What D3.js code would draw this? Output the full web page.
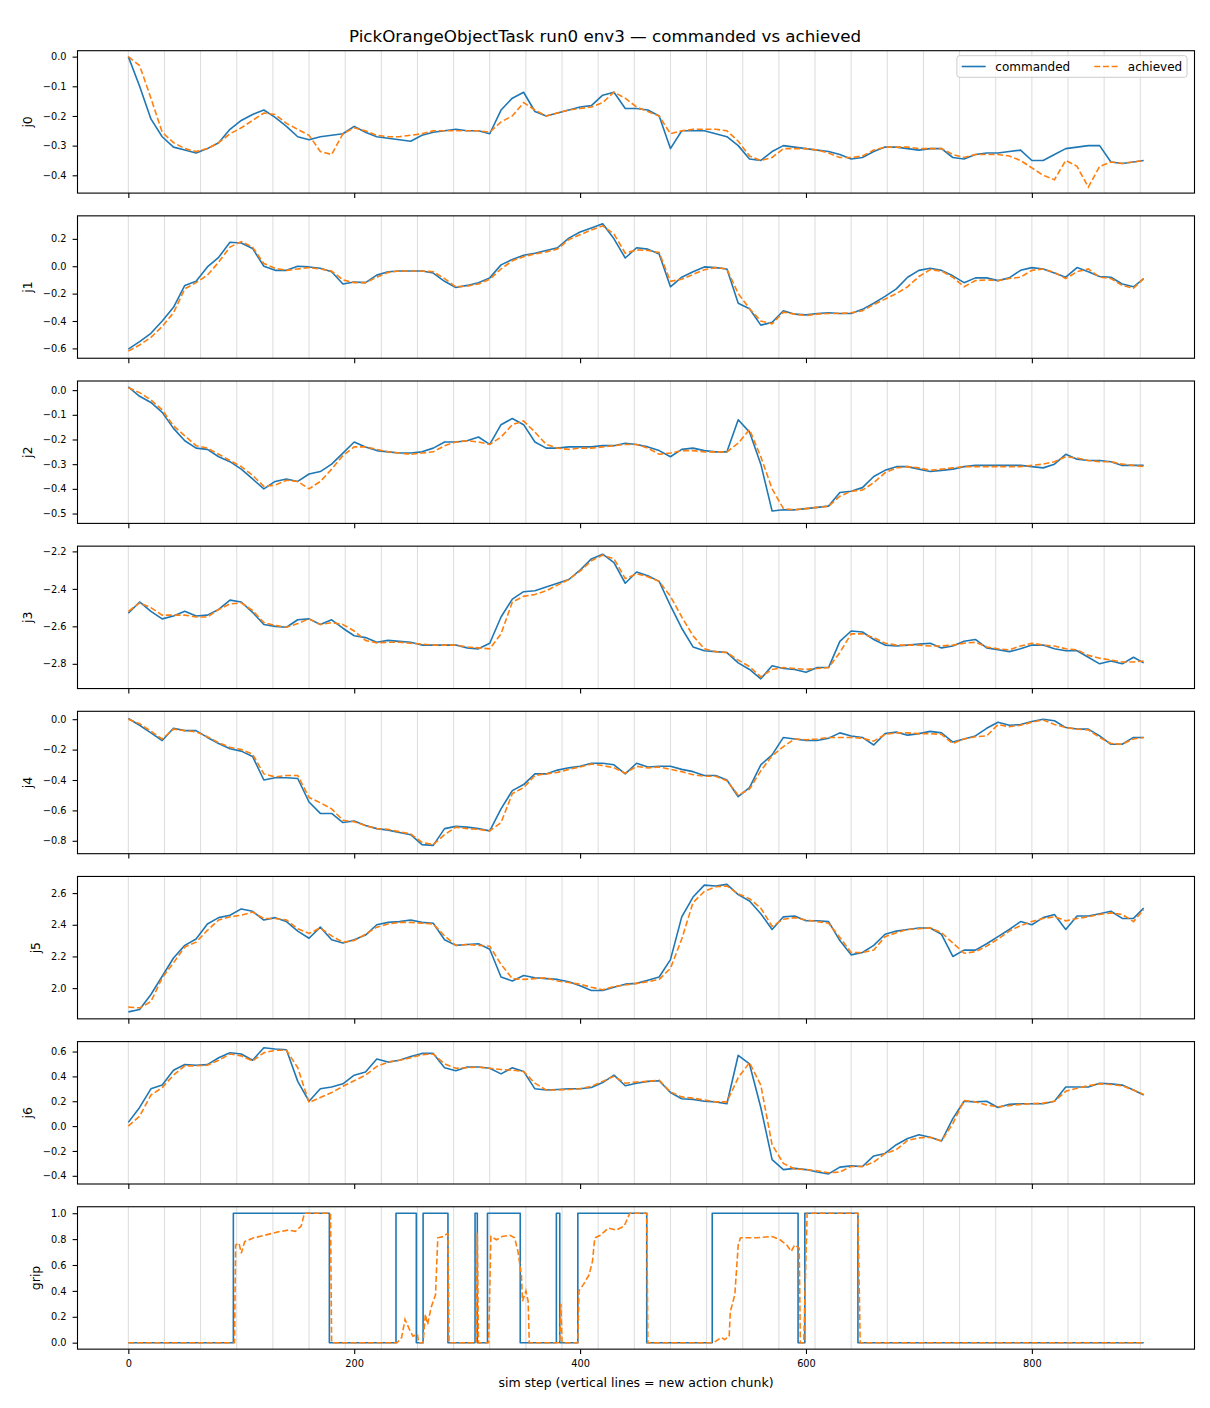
<!DOCTYPE html>
<html>
<head>
<meta charset="utf-8">
<script src="https://cdn.jsdelivr.net/npm/d3@7"></script>
<style>
  body { margin: 0; background: #fff; }
  svg { font-family: "DejaVu Sans", sans-serif; }
</style>
</head>
<body>
<svg id="fig" width="1210" height="1408"></svg>
<script>
// sample steps (every 10 sim steps, last one is the final step)
var steps = [0,10,20,30,40,50,60,70,80,90,100,110,120,130,140,150,160,170,180,190,
  200,210,220,230,240,250,260,270,280,290,300,310,320,330,340,350,360,370,380,390,
  400,410,420,430,440,450,460,470,480,490,500,510,520,530,540,550,560,570,580,590,
  600,610,620,630,640,650,660,670,680,690,700,710,720,730,740,750,760,770,780,790,
  800,810,820,830,840,850,860,870,880,890,899];

var j0Cmd = [0.0,-0.10,-0.21,-0.27,-0.305,-0.315,-0.325,-0.31,-0.29,-0.245,
  -0.215,-0.195,-0.18,-0.205,-0.235,-0.27,-0.28,-0.27,-0.265,-0.26,
  -0.235,-0.255,-0.27,-0.275,-0.28,-0.285,-0.265,-0.255,-0.25,-0.245,
  -0.25,-0.25,-0.26,-0.18,-0.14,-0.12,-0.185,-0.20,-0.19,-0.18,
  -0.17,-0.165,-0.13,-0.12,-0.175,-0.175,-0.18,-0.20,-0.31,-0.25,
  -0.25,-0.25,-0.26,-0.27,-0.30,-0.345,-0.35,-0.32,-0.30,-0.305,
  -0.31,-0.315,-0.32,-0.33,-0.345,-0.34,-0.32,-0.305,-0.305,-0.31,
  -0.315,-0.31,-0.31,-0.34,-0.345,-0.33,-0.325,-0.325,-0.32,-0.315,
  -0.35,-0.35,-0.33,-0.31,-0.305,-0.30,-0.30,-0.355,-0.36,-0.355,-0.35];
var j0Ach = [0.0,-0.03,-0.14,-0.255,-0.29,-0.31,-0.32,-0.31,-0.29,-0.26,
  -0.24,-0.215,-0.19,-0.195,-0.225,-0.245,-0.265,-0.32,-0.33,-0.26,
  -0.24,-0.25,-0.265,-0.27,-0.27,-0.265,-0.26,-0.25,-0.25,-0.25,
  -0.25,-0.25,-0.255,-0.22,-0.20,-0.155,-0.18,-0.20,-0.19,-0.18,
  -0.175,-0.17,-0.155,-0.12,-0.14,-0.17,-0.185,-0.20,-0.26,-0.25,
  -0.245,-0.245,-0.245,-0.25,-0.285,-0.335,-0.35,-0.34,-0.31,-0.31,
  -0.31,-0.315,-0.325,-0.34,-0.34,-0.335,-0.315,-0.305,-0.305,-0.305,
  -0.31,-0.31,-0.31,-0.33,-0.34,-0.33,-0.33,-0.33,-0.335,-0.35,
  -0.375,-0.40,-0.415,-0.35,-0.37,-0.44,-0.37,-0.355,-0.36,-0.355,-0.35];

var j1Cmd = [-0.605,-0.55,-0.49,-0.40,-0.30,-0.14,-0.11,-0.005,0.065,0.175,
  0.17,0.13,0.0,-0.03,-0.03,0.0,-0.005,-0.015,-0.04,-0.13,
  -0.115,-0.12,-0.065,-0.04,-0.035,-0.035,-0.035,-0.05,-0.11,-0.155,
  -0.14,-0.12,-0.085,0.01,0.05,0.08,0.095,0.115,0.135,0.205,
  0.25,0.28,0.31,0.20,0.06,0.135,0.125,0.09,-0.15,-0.08,
  -0.04,-0.005,-0.01,-0.02,-0.27,-0.31,-0.43,-0.41,-0.325,-0.35,
  -0.355,-0.345,-0.34,-0.345,-0.345,-0.315,-0.27,-0.22,-0.165,-0.08,
  -0.03,-0.015,-0.03,-0.07,-0.12,-0.085,-0.085,-0.105,-0.085,-0.03,
  -0.01,-0.02,-0.05,-0.08,-0.01,-0.04,-0.075,-0.08,-0.13,-0.15,-0.09];
var j1Ach = [-0.62,-0.575,-0.52,-0.44,-0.34,-0.165,-0.12,-0.065,0.03,0.14,
  0.18,0.14,0.02,-0.015,-0.03,-0.02,-0.01,-0.02,-0.035,-0.10,
  -0.12,-0.12,-0.08,-0.045,-0.035,-0.035,-0.035,-0.04,-0.09,-0.15,
  -0.145,-0.13,-0.095,-0.02,0.04,0.07,0.09,0.105,0.125,0.195,
  0.23,0.265,0.295,0.235,0.095,0.12,0.115,0.10,-0.11,-0.095,
  -0.06,-0.025,-0.01,-0.02,-0.20,-0.31,-0.40,-0.42,-0.335,-0.35,
  -0.36,-0.35,-0.345,-0.345,-0.34,-0.325,-0.28,-0.24,-0.20,-0.15,
  -0.075,-0.025,-0.035,-0.08,-0.15,-0.105,-0.10,-0.105,-0.09,-0.08,
  -0.03,-0.02,-0.045,-0.09,-0.04,-0.02,-0.08,-0.09,-0.14,-0.16,-0.09];

var j2Cmd = [0.013,-0.025,-0.05,-0.09,-0.155,-0.205,-0.235,-0.24,-0.27,-0.29,
  -0.32,-0.36,-0.40,-0.37,-0.36,-0.37,-0.34,-0.33,-0.30,-0.255,
  -0.21,-0.23,-0.245,-0.25,-0.255,-0.255,-0.25,-0.235,-0.21,-0.21,
  -0.205,-0.19,-0.22,-0.14,-0.115,-0.14,-0.21,-0.235,-0.235,-0.23,
  -0.23,-0.23,-0.225,-0.225,-0.215,-0.22,-0.23,-0.245,-0.27,-0.24,
  -0.235,-0.245,-0.25,-0.25,-0.12,-0.17,-0.30,-0.49,-0.485,-0.485,
  -0.48,-0.475,-0.47,-0.415,-0.41,-0.395,-0.35,-0.325,-0.31,-0.31,
  -0.32,-0.33,-0.325,-0.32,-0.31,-0.305,-0.305,-0.305,-0.305,-0.305,
  -0.31,-0.315,-0.30,-0.26,-0.28,-0.285,-0.285,-0.29,-0.305,-0.305,-0.305];
var j2Ach = [0.01,-0.01,-0.04,-0.08,-0.145,-0.185,-0.225,-0.235,-0.26,-0.285,
  -0.31,-0.345,-0.39,-0.385,-0.365,-0.37,-0.40,-0.37,-0.32,-0.265,
  -0.23,-0.23,-0.24,-0.25,-0.255,-0.26,-0.255,-0.25,-0.225,-0.21,
  -0.205,-0.21,-0.22,-0.19,-0.14,-0.125,-0.17,-0.22,-0.235,-0.24,
  -0.235,-0.235,-0.23,-0.225,-0.22,-0.22,-0.235,-0.26,-0.255,-0.245,
  -0.245,-0.25,-0.25,-0.25,-0.215,-0.16,-0.27,-0.40,-0.48,-0.485,
  -0.48,-0.475,-0.47,-0.43,-0.41,-0.405,-0.375,-0.335,-0.315,-0.31,
  -0.315,-0.325,-0.32,-0.315,-0.31,-0.31,-0.31,-0.31,-0.31,-0.31,
  -0.305,-0.30,-0.29,-0.27,-0.275,-0.285,-0.29,-0.29,-0.30,-0.305,-0.31];

var j3Cmd = [-2.53,-2.47,-2.52,-2.56,-2.545,-2.52,-2.545,-2.54,-2.51,-2.46,
  -2.47,-2.525,-2.59,-2.60,-2.605,-2.565,-2.56,-2.59,-2.565,-2.61,
  -2.65,-2.66,-2.685,-2.675,-2.68,-2.685,-2.70,-2.70,-2.70,-2.70,
  -2.715,-2.72,-2.69,-2.55,-2.455,-2.415,-2.41,-2.39,-2.37,-2.35,
  -2.30,-2.24,-2.215,-2.26,-2.37,-2.31,-2.33,-2.36,-2.49,-2.61,
  -2.71,-2.73,-2.735,-2.74,-2.795,-2.83,-2.88,-2.81,-2.825,-2.83,
  -2.845,-2.82,-2.82,-2.68,-2.625,-2.63,-2.67,-2.70,-2.705,-2.70,
  -2.695,-2.69,-2.715,-2.705,-2.68,-2.67,-2.715,-2.725,-2.735,-2.72,
  -2.70,-2.70,-2.72,-2.73,-2.73,-2.765,-2.80,-2.785,-2.80,-2.765,-2.795];
var j3Ach = [-2.52,-2.475,-2.50,-2.54,-2.54,-2.54,-2.55,-2.55,-2.51,-2.48,
  -2.475,-2.515,-2.58,-2.595,-2.605,-2.585,-2.56,-2.59,-2.58,-2.59,
  -2.625,-2.675,-2.688,-2.685,-2.685,-2.69,-2.695,-2.70,-2.70,-2.70,
  -2.71,-2.715,-2.72,-2.64,-2.47,-2.44,-2.43,-2.41,-2.38,-2.35,
  -2.305,-2.25,-2.22,-2.24,-2.345,-2.32,-2.335,-2.36,-2.44,-2.55,
  -2.65,-2.72,-2.735,-2.74,-2.78,-2.815,-2.87,-2.83,-2.82,-2.825,
  -2.83,-2.825,-2.82,-2.74,-2.64,-2.64,-2.66,-2.69,-2.70,-2.70,
  -2.70,-2.705,-2.705,-2.70,-2.69,-2.685,-2.71,-2.72,-2.725,-2.705,
  -2.69,-2.70,-2.705,-2.72,-2.725,-2.755,-2.77,-2.78,-2.79,-2.79,-2.785];

var j4Cmd = [0.005,-0.04,-0.09,-0.14,-0.06,-0.075,-0.075,-0.12,-0.16,-0.195,
  -0.21,-0.245,-0.40,-0.385,-0.385,-0.39,-0.545,-0.62,-0.62,-0.68,
  -0.67,-0.70,-0.72,-0.73,-0.745,-0.76,-0.825,-0.83,-0.72,-0.705,
  -0.71,-0.72,-0.735,-0.59,-0.47,-0.43,-0.36,-0.36,-0.335,-0.32,
  -0.31,-0.29,-0.29,-0.30,-0.36,-0.29,-0.315,-0.31,-0.31,-0.33,
  -0.345,-0.37,-0.37,-0.40,-0.51,-0.45,-0.30,-0.235,-0.12,-0.13,
  -0.14,-0.14,-0.125,-0.09,-0.11,-0.12,-0.17,-0.095,-0.085,-0.105,
  -0.095,-0.08,-0.09,-0.15,-0.13,-0.11,-0.06,-0.02,-0.04,-0.035,
  -0.015,0.0,-0.01,-0.055,-0.065,-0.065,-0.11,-0.165,-0.165,-0.12,-0.12];
var j4Ach = [0.0,-0.03,-0.08,-0.13,-0.065,-0.075,-0.083,-0.115,-0.155,-0.185,
  -0.20,-0.23,-0.36,-0.38,-0.37,-0.37,-0.515,-0.55,-0.59,-0.665,
  -0.675,-0.70,-0.72,-0.725,-0.74,-0.755,-0.81,-0.825,-0.76,-0.71,
  -0.72,-0.725,-0.735,-0.68,-0.49,-0.45,-0.37,-0.36,-0.35,-0.33,
  -0.315,-0.295,-0.305,-0.32,-0.355,-0.31,-0.32,-0.315,-0.33,-0.345,
  -0.365,-0.375,-0.375,-0.405,-0.50,-0.46,-0.34,-0.24,-0.18,-0.13,
  -0.135,-0.13,-0.12,-0.12,-0.12,-0.125,-0.145,-0.10,-0.09,-0.09,
  -0.095,-0.095,-0.10,-0.16,-0.13,-0.115,-0.11,-0.035,-0.05,-0.04,
  -0.02,-0.005,-0.035,-0.055,-0.065,-0.07,-0.12,-0.16,-0.165,-0.13,-0.12];

var j5Cmd = [1.85,1.865,1.96,2.075,2.19,2.27,2.31,2.405,2.445,2.46,
  2.50,2.485,2.43,2.445,2.42,2.36,2.315,2.385,2.305,2.285,
  2.305,2.335,2.40,2.415,2.42,2.43,2.415,2.41,2.305,2.27,
  2.275,2.28,2.245,2.07,2.045,2.08,2.065,2.06,2.055,2.04,
  2.015,1.985,1.985,2.005,2.025,2.03,2.05,2.07,2.18,2.45,
  2.575,2.65,2.645,2.655,2.59,2.55,2.47,2.37,2.45,2.455,
  2.425,2.425,2.42,2.30,2.21,2.225,2.27,2.34,2.36,2.37,
  2.38,2.38,2.34,2.20,2.24,2.24,2.28,2.325,2.37,2.42,
  2.40,2.445,2.465,2.37,2.455,2.455,2.47,2.485,2.44,2.44,2.505];
var j5Ach = [1.88,1.875,1.915,2.065,2.16,2.26,2.29,2.365,2.43,2.45,
  2.46,2.48,2.44,2.44,2.43,2.375,2.345,2.38,2.33,2.29,
  2.30,2.34,2.385,2.405,2.415,2.415,2.41,2.405,2.33,2.27,
  2.275,2.27,2.265,2.15,2.06,2.055,2.06,2.065,2.045,2.035,
  2.025,2.005,1.99,2.01,2.02,2.03,2.04,2.055,2.125,2.31,
  2.54,2.61,2.64,2.645,2.595,2.565,2.505,2.39,2.435,2.445,
  2.43,2.42,2.41,2.32,2.225,2.225,2.24,2.325,2.35,2.37,
  2.375,2.38,2.35,2.285,2.22,2.23,2.265,2.31,2.36,2.395,
  2.42,2.44,2.45,2.425,2.44,2.45,2.465,2.475,2.465,2.42,2.495];

var j6Cmd = [0.03,0.15,0.30,0.33,0.45,0.495,0.49,0.495,0.55,0.59,
  0.58,0.53,0.63,0.62,0.615,0.36,0.20,0.30,0.315,0.34,
  0.41,0.435,0.54,0.515,0.53,0.56,0.585,0.585,0.47,0.445,
  0.475,0.475,0.465,0.42,0.47,0.44,0.30,0.29,0.295,0.30,
  0.30,0.31,0.35,0.41,0.325,0.345,0.36,0.365,0.27,0.22,
  0.215,0.20,0.195,0.18,0.57,0.50,0.15,-0.27,-0.35,-0.34,
  -0.35,-0.37,-0.385,-0.33,-0.32,-0.325,-0.24,-0.22,-0.15,-0.10,
  -0.07,-0.09,-0.12,0.06,0.20,0.195,0.20,0.15,0.175,0.18,
  0.18,0.18,0.20,0.315,0.315,0.315,0.345,0.34,0.33,0.29,0.25];
var j6Ach = [0.0,0.08,0.25,0.31,0.41,0.485,0.485,0.49,0.53,0.58,
  0.565,0.525,0.59,0.61,0.61,0.47,0.19,0.23,0.27,0.32,
  0.365,0.41,0.48,0.515,0.53,0.55,0.575,0.58,0.50,0.465,
  0.47,0.475,0.465,0.455,0.45,0.44,0.345,0.29,0.29,0.295,
  0.30,0.32,0.36,0.40,0.345,0.355,0.36,0.37,0.275,0.235,
  0.225,0.21,0.195,0.195,0.39,0.51,0.33,-0.15,-0.30,-0.345,
  -0.35,-0.36,-0.375,-0.37,-0.325,-0.325,-0.29,-0.22,-0.19,-0.115,
  -0.095,-0.09,-0.12,0.02,0.205,0.195,0.17,0.155,0.165,0.175,
  0.18,0.185,0.20,0.28,0.305,0.325,0.34,0.335,0.325,0.29,0.255];

// gripper: commanded is binary, stored as [step, value] change points
var gripCmd = [[0,0],[93,1],[178,0],[237,1],[255,0],[261,1],[283,0],[307,1],[309,0],
  [318,1],[347,0],[379,1],[382,0],[398,1],[459,0],[517,1],[593,0],[599,1],[646,0],[899,0]];
var gripAch = [[0,0],[94,0],[95,0.755],[98,0.77],[100,0.69],[103,0.78],[111,0.81],[121,0.83],
  [132,0.855],[142,0.87],[148,0.86],[153,0.90],[156,1.0],[179,1.0],[180,0],[238,0],[242,0.04],
  [245,0.18],[249,0.10],[252,0.05],[256,0.065],[257,0],[261,0],[263,0.22],[265,0.14],[268,0.27],
  [272,0.37],[274,0.81],[279,0.82],[282,0.84],[283,0.84],[284,0],[308,0],[309,0.85],[310,0],
  [319,0],[321,0.82],[326,0.795],[331,0.82],[338,0.83],[342,0.81],[345,0.705],[348,0.525],
  [349,0.32],[352,0.40],[354,0.32],[355,0],[382,0],[383,0.30],[384,0],[398,0],[399,0.40],
  [403,0.45],[408,0.525],[411,0.63],[413,0.81],[418,0.83],[425,0.885],[432,0.87],[439,0.90],
  [442,0.96],[444,1.0],[459,1.0],[460,0],[517,0],[520,0.01],[525,0.04],[528,0.025],[532,0.05],
  [533,0.24],[537,0.37],[540,0.755],[542,0.81],[556,0.81],[570,0.82],[577,0.795],[583,0.755],
  [587,0.705],[590,0.755],[594,0.73],[595,0],[598,0],[601,1.0],[646,1.0],[648,0],[899,0]];

// starts of the action chunks
var chunkStarts = [0,32,64,96,128,160,192,224,256,288,320,352,384,416,448,480,
  512,544,576,608,640,672,704,736,768,800,832,864,896];

var panelNames = ["j0","j1","j2","j3","j4","j5","j6","grip"];
var yLimits = [[-0.46,0.02],[-0.672,0.368],[-0.54,0.037],[-2.932,-2.172],
  [-0.885,0.052],[1.806,2.705],[-0.466,0.68],[-0.05,1.05]];
var xLimits = [-45, 944];
var xTicks = [0,200,400,600,800];

var cmdSeries = [j0Cmd,j1Cmd,j2Cmd,j3Cmd,j4Cmd,j5Cmd,j6Cmd];
var achSeries = [j0Ach,j1Ach,j2Ach,j3Ach,j4Ach,j5Ach,j6Ach];

var blue = "#1f77b4", orange = "#ff7f0e";
var left = 77.5, right = 1194.5, top0 = 50.7, panelH = 142.4, panelStep = 165.15;

var svg = d3.select("#fig");

var x = d3.scaleLinear().domain(xLimits).range([left, right]);

svg.append("text")
    .attr("x", 605).attr("y", 41.5)
    .attr("text-anchor", "middle")
    .style("font-size", "16.7px")
    .text("PickOrangeObjectTask run0 env3 \u2014 commanded vs achieved");

function zip(xs, ys) {
    return xs.map(function(s, i) { return [s, ys[i]]; });
}

panelNames.forEach(function(name, i) {
    var g = svg.append("g").attr("transform", "translate(0," + (top0 + i * panelStep) + ")");
    var y = d3.scaleLinear().domain(yLimits[i]).range([panelH, 0]);

    // chunk boundaries
    g.selectAll("line.chunk")
        .data(chunkStarts)
        .enter().append("line")
        .attr("class", "chunk")
        .attr("x1", function(d) { return x(d); })
        .attr("x2", function(d) { return x(d); })
        .attr("y1", 0).attr("y2", panelH)
        .attr("stroke", "#808080").attr("stroke-opacity", 0.35).attr("stroke-width", 0.8);

    var line = d3.line().x(function(d) { return x(d[0]); }).y(function(d) { return y(d[1]); });
    var cmdData, achData, cmdLine = line;
    if (name == "grip") {
        cmdData = gripCmd;
        achData = gripAch;
        cmdLine = d3.line().curve(d3.curveStepAfter)
            .x(function(d) { return x(d[0]); }).y(function(d) { return y(d[1]); });
    } else {
        cmdData = zip(steps, cmdSeries[i]);
        achData = zip(steps, achSeries[i]);
    }

    g.append("path").datum(cmdData)
        .attr("d", cmdLine)
        .attr("fill", "none").attr("stroke", blue).attr("stroke-width", 1.6)
        .attr("stroke-linejoin", "round");
    g.append("path").datum(achData)
        .attr("d", line)
        .attr("fill", "none").attr("stroke", orange).attr("stroke-width", 1.6)
        .attr("stroke-dasharray", "6,2.7");

    // axes
    var yAxis = g.append("g").attr("transform", "translate(" + left + ",0)")
        .call(d3.axisLeft(y).ticks(5).tickFormat(d3.format(".1f")).tickSize(4.9).tickPadding(6));
    var xAxis = g.append("g").attr("transform", "translate(0," + panelH + ")")
        .call(d3.axisBottom(x).tickValues(xTicks).tickSize(4.9).tickPadding(6)
            .tickFormat(i == panelNames.length - 1 ? d3.format("d") : ""));
    [yAxis, xAxis].forEach(function(a) {
        a.select(".domain").remove();
        a.selectAll("line").attr("stroke", "#000").attr("stroke-width", 1.1);
        a.selectAll("text").attr("fill", "#000")
            .style("font-family", "DejaVu Sans").style("font-size", "9.8px");
    });

    g.append("rect")
        .attr("x", left).attr("y", 0)
        .attr("width", right - left).attr("height", panelH)
        .attr("fill", "none").attr("stroke", "#000").attr("stroke-width", 1.1);

    var tickLeft = yAxis.node().getBBox().x + left;
    g.append("text")
        .attr("transform", "translate(" + (tickLeft - 11) + "," + (panelH / 2) + ") rotate(-90)")
        .attr("text-anchor", "middle")
        .style("font-size", "12.5px")
        .text(name);

    // legend in the first panel only
    if (i == 0) {
        var fs = 12, pad = 4.8, hl = 24, hp = 9.6, cs = 24;
        var leg = g.append("g");
        var box = leg.append("rect");
        var items = [["commanded", blue, null], ["achieved", orange, "6,2.7"]];
        var cx = 0;
        var widths = [];
        items.forEach(function(it) {
            var t = leg.append("text").attr("y", 4.3).style("font-size", fs + "px").text(it[0]);
            widths.push(t.node().getComputedTextLength());
            t.remove();
        });
        var total = pad * 2 + hl * 2 + hp * 2 + cs + widths[0] + widths[1];
        var bx = right - 7.5 - total, by = 5;
        box.attr("x", bx).attr("y", by).attr("width", total).attr("height", 21.6)
            .attr("rx", 2.5).attr("fill", "#fff").attr("fill-opacity", 0.8)
            .attr("stroke", "#cccccc").attr("stroke-width", 1);
        cx = bx + pad;
        items.forEach(function(it, k) {
            var ly = by + 10.8;
            leg.append("line").attr("x1", cx).attr("x2", cx + hl).attr("y1", ly).attr("y2", ly)
                .attr("stroke", it[1]).attr("stroke-width", 1.6)
                .attr("stroke-dasharray", it[2]);
            leg.append("text").attr("x", cx + hl + hp).attr("y", ly + 4.3)
                .style("font-size", fs + "px").text(it[0]);
            cx += hl + hp + widths[k] + cs;
        });
    }
});

svg.append("text")
    .attr("x", (left + right) / 2).attr("y", 1387)
    .attr("text-anchor", "middle")
    .style("font-size", "12.5px")
    .text("sim step (vertical lines = new action chunk)");
</script>
</body>
</html>
